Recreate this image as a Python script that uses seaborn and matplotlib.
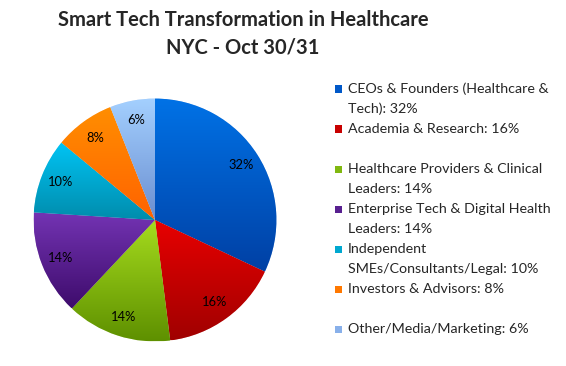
import seaborn as sns
import matplotlib.pyplot as plt
import numpy as np
from matplotlib.colors import LinearSegmentedColormap
from matplotlib.patches import Rectangle

# data
categories = ["CEOs & Founders (Healthcare &\nTech)",
              "Academia & Research",
              "Healthcare Providers & Clinical\nLeaders",
              "Enterprise Tech & Digital Health\nLeaders",
              "Independent\nSMEs/Consultants/Legal",
              "Investors & Advisors",
              "Other/Media/Marketing"]
shares = [32, 16, 14, 14, 10, 8, 6]
title_lines = ["Smart Tech Transformation in Healthcare", "NYC - Oct 30/31"]

# Excel style gradient, light on top and dark at bottom
top_colors = ["#0072e6", "#e80000", "#a6dc1e", "#7434b4", "#00c4f4", "#ff8e00", "#a4d0ff"]
bottom_colors = ["#0040a4", "#a00000", "#5e9000", "#3e0c6c", "#008cac", "#ff6200", "#6a8ed0"]
mid_colors = ["#0058c8", "#c80000", "#80b810", "#582090", "#00a8d0", "#ff7800", "#88b0ea"]
gap_after = [1, 5]  # blank line in the legend after these entries

sns.set_theme(style="white")
plt.rcParams['font.family'] = ['Lato', 'DejaVu Sans']

W, H = 566, 366
fig = plt.figure(figsize=(W / 100, H / 100), dpi=100)
fig.patch.set_facecolor('white')

cx, cy, r = 155, 220, 122
ax = fig.add_axes([(cx - r) / W, (H - cy - r) / H, 2 * r / W, 2 * r / H])
wedges, texts, autotexts = ax.pie(shares, startangle=90, counterclock=False,
                                  colors=mid_colors, autopct='%1.0f%%', pctdistance=0.84,
                                  wedgeprops=dict(edgecolor='white', linewidth=0.4),
                                  textprops=dict(fontsize=9.3, color='black'))

# gradient fill clipped to each wedge
grad = np.linspace(0, 1, 256).reshape(-1, 1)
for w, c_top, c_bot in zip(wedges, top_colors, bottom_colors):
    bb = w.get_path().get_extents()
    cmap = LinearSegmentedColormap.from_list('g', [c_bot, c_top])
    im = ax.imshow(grad, cmap=cmap, extent=[bb.x0, bb.x1, bb.y0, bb.y1],
                   origin='lower', aspect='auto', zorder=1.5)
    im.set_clip_path(w)
for t in autotexts:
    t.set_zorder(3)

ax.set_xlim(-1.005, 1.005)
ax.set_ylim(-1.005, 1.005)
ax.set_aspect('equal')
ax.axis('off')

# title
fig.text(243 / W, 1 - 20 / H, title_lines[0], ha='center', va='center',
         fontsize=14.5, fontweight='bold')
fig.text(243 / W, 1 - 48 / H, title_lines[1], ha='center', va='center',
         fontsize=14.5, fontweight='bold')

# legend, one line of text per 20 px
y = 89
for i, (name, val, col) in enumerate(zip(categories, shares, mid_colors)):
    label = f"{name}: {val}%"
    fig.add_artist(Rectangle(((335) / W, 1 - (y + 3.5) / H), 7 / W, 7 / H,
                             transform=fig.transFigure, facecolor=col, edgecolor='none'))
    for line in label.split("\n"):
        fig.text(348 / W, 1 - y / H, line, ha='left', va='center', fontsize=10.3)
        y += 20
    if i in gap_after:
        y += 20

fig.savefig('out.png', dpi=100, facecolor='white')
